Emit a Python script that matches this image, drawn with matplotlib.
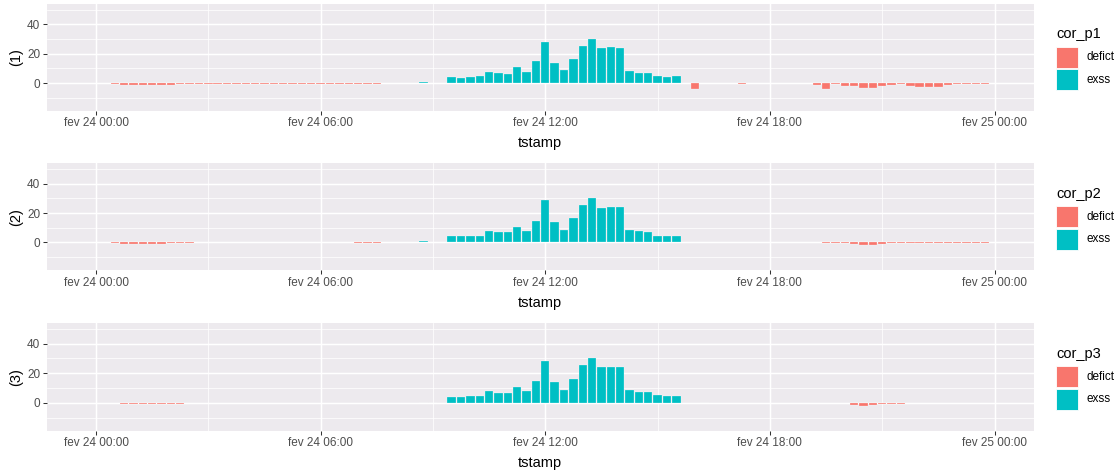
import numpy as np
import pandas as pd
import matplotlib
matplotlib.use("Agg")
import matplotlib.pyplot as plt
import matplotlib.dates as mdates
from matplotlib.patches import Rectangle
from matplotlib.ticker import FuncFormatter, MultipleLocator

nan = np.nan

# 15 minute slots for one day, 8 slots (2 hours) per row
tstamp = pd.date_range("2021-02-24 00:00", periods=96, freq="15min")

cor_p1 = [
    nan, nan, -0.8, -1.3, -1.3, -1.3, -1.3, -1.3,
    -1.3, -0.8, -0.8, -0.8, -0.8, -0.8, -0.8, -0.8,
    -0.8, -0.8, -0.8, -0.8, -0.8, -0.8, -0.8, -0.8,
    -0.8, -0.8, -0.8, -0.8, -0.8, -0.8, -0.8, nan,
    nan, nan, nan, 0.8, nan, nan, 4.1, 3.2,
    4.1, 4.7, 7.5, 6.8, 6.1, 10.8, 7.5, 14.9,
    27.8, 13.6, 8.8, 16.3, 25.1, 29.8, 23.7, 24.4,
    23.7, 8.1, 6.8, 6.8, 4.7, 4.1, 4.7, nan,
    -4.1, nan, nan, nan, nan, -0.8, nan, nan,
    nan, nan, nan, nan, nan, -1.2, -3.9, -0.8,
    -1.7, -1.7, -3.2, -3.2, -1.7, -1.1, -0.8, -1.7,
    -2.3, -2.3, -2.3, -1.2, -0.8, -0.8, -0.8, -0.8,
]

cor_p2 = [
    nan, nan, -0.5, -1.1, -1.1, -1.1, -1.1, -1.1,
    -0.5, -0.5, -0.5, nan, nan, nan, nan, nan,
    nan, nan, nan, nan, nan, nan, nan, nan,
    nan, nan, nan, nan, -0.5, -0.5, -0.5, nan,
    nan, nan, nan, 1.0, nan, nan, 4.1, 4.1,
    4.1, 4.7, 7.7, 6.8, 6.8, 10.8, 7.7, 14.9,
    28.7, 13.6, 8.8, 16.3, 25.8, 30.5, 23.7, 24.4,
    24.4, 8.8, 7.7, 6.8, 4.7, 4.1, 4.7, nan,
    nan, nan, nan, nan, nan, nan, nan, nan,
    nan, nan, nan, nan, nan, nan, -0.5, -0.5,
    -0.5, -1.1, -1.8, -1.8, -0.8, -0.5, -0.5, -0.5,
    -0.5, -0.5, -0.5, -0.5, -0.5, -0.5, -0.5, -0.5,
]

cor_p3 = [
    nan, nan, nan, -0.8, -0.8, -0.8, -0.8, -0.8,
    -0.8, -0.8, nan, nan, nan, nan, nan, nan,
    nan, nan, nan, nan, nan, nan, nan, nan,
    nan, nan, nan, nan, nan, nan, nan, nan,
    nan, nan, nan, 0.0, 0.0, nan, 4.1, 4.1,
    4.7, 4.7, 8.1, 6.8, 6.8, 10.8, 8.1, 14.9,
    28.5, 14.2, 8.8, 16.3, 25.8, 30.5, 24.4, 24.4,
    24.4, 8.8, 7.5, 7.5, 5.4, 4.7, 4.7, nan,
    nan, 0.0, nan, nan, nan, nan, nan, nan,
    nan, nan, nan, nan, nan, nan, nan, nan,
    nan, -1.6, -2.1, -1.3, -1.0, -0.7, -0.7, nan,
    nan, nan, nan, nan, nan, nan, nan, nan,
]

series = [("cor_p1", "(1)", cor_p1), ("cor_p2", "(2)", cor_p2), ("cor_p3", "(3)", cor_p3)]
classes = ["defict", "exss"]
class_colors = {"defict": "#F8766D", "exss": "#00BFC4"}

W, H = 1119, 472
PANEL_BG = "#EDEAEE"

plt.rcParams["font.family"] = ["Liberation Sans", "DejaVu Sans"]

fig = plt.figure(figsize=(W / 100, H / 100), dpi=100)

# panel boxes in pixels: left, top, right, bottom
panel_left, panel_right = 47, 1033.5
panel_rows = [(4, 110.7), (163.3, 270), (323.3, 430.5)]

day0 = tstamp[0]
xmin = mdates.date2num(day0 - pd.Timedelta(hours=1.309))
xmax = mdates.date2num(day0 + pd.Timedelta(hours=25.04))
bar_w = 0.9 / 96


def fev_fmt(x, pos):
    d = mdates.num2date(x)
    return f"fev {d.day} {d:%H:%M}"


for (name, ylab, vals), (top, bottom) in zip(series, panel_rows):
    ax = fig.add_axes([panel_left / W, 1 - bottom / H,
                       (panel_right - panel_left) / W, (bottom - top) / H])
    ax.set_facecolor(PANEL_BG)
    for s in ax.spines.values():
        s.set_visible(False)

    v = np.array(vals, dtype=float)
    ok = ~np.isnan(v)
    cols = [class_colors["defict"] if y < 0 else class_colors["exss"] for y in v[ok]]
    ax.bar(tstamp[ok], v[ok], width=bar_w, color=cols,
           edgecolor=(1, 1, 1, 0.6), linewidth=0.3, zorder=3)

    ax.set_xlim(xmin, xmax)
    ax.set_ylim(-18.7, 53.8)

    ax.xaxis.set_major_locator(mdates.HourLocator(byhour=[0, 6, 12, 18]))
    ax.xaxis.set_minor_locator(mdates.HourLocator(byhour=[3, 9, 15, 21]))
    ax.xaxis.set_major_formatter(FuncFormatter(fev_fmt))
    ax.yaxis.set_major_locator(MultipleLocator(20))
    ax.yaxis.set_minor_locator(MultipleLocator(10))

    ax.grid(which="major", color="white", linewidth=1.07, zorder=0)
    ax.grid(which="minor", color="white", linewidth=0.53, zorder=0)
    ax.set_axisbelow(True)

    ax.tick_params(which="major", length=2.65, width=0.75, color="#333333",
                   labelcolor="#4D4D4D", labelsize=8.45, pad=2.1)
    ax.tick_params(which="minor", length=0)

    ax.set_xlabel("tstamp", fontsize=10.5, labelpad=5)
    ax.set_ylabel(ylab, fontsize=10.5, labelpad=3)

    # legend drawn by hand, ggplot style
    mid = (top + bottom) / 2
    kx0, kw = 1056, 21.7
    fig.text(kx0 / W, 1 - (mid - 23) / H, name, fontsize=10.5,
             ha="left", va="center")
    for i, cls in enumerate(classes):
        ky = mid - 10.5 + i * 22.6
        fig.add_artist(Rectangle((kx0 / W, 1 - (ky + 21) / H), kw / W, 21 / H,
                                 transform=fig.transFigure,
                                 facecolor=class_colors[cls], edgecolor="white",
                                 linewidth=0.6))
        fig.text(1086.5 / W, 1 - (ky + 10.5) / H, cls, fontsize=8.45,
                 ha="left", va="center")

fig.savefig("out.png", dpi=100)
